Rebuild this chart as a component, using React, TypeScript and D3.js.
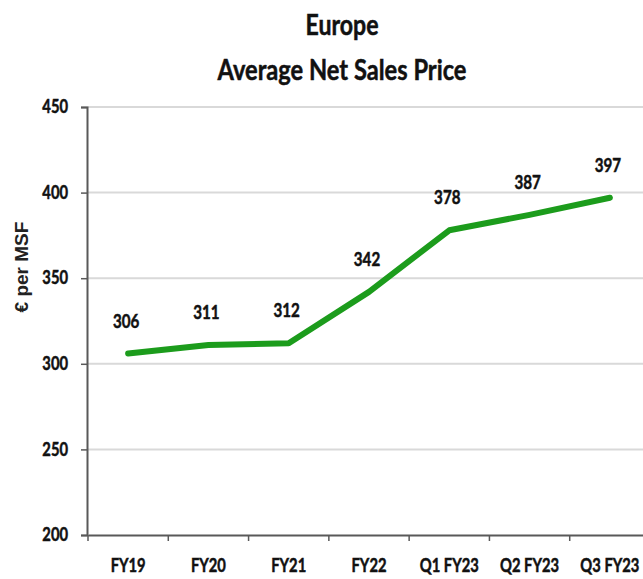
import React, { useEffect, useRef } from "react";
import * as d3 from "d3";

const categories = ["FY19", "FY20", "FY21", "FY22", "Q1 FY23", "Q2 FY23", "Q3 FY23"];
const prices = [306, 311, 312, 342, 378, 387, 397];
const yTicks = [200, 250, 300, 350, 400, 450];
const titleLines = ["Europe", "Average Net Sales Price"];
const yLabel = "€ per MSF";

const W = 643;
const H = 579;
const FONT = "Lato, 'Open Sans', sans-serif";
const SX = 0.82; // squeeze Lato horizontally, closer to Calibri
const INK = "#111";

const App = () => {
  const ref = useRef<SVGSVGElement>(null);

  useEffect(() => {
    const svg = d3.select(ref.current);
    svg.selectAll("*").remove();

    const left = 87;
    const top = 107;
    const bottom = 535;

    // x axis runs off the right edge in the original
    const x = d3.scaleBand().domain(categories).range([left + 1, 650]);
    const y = d3.scaleLinear().domain([200, 450]).range([bottom, top]);

    const heavy = (sel: any, size: number) =>
      sel
        .attr("font-family", FONT)
        .attr("font-weight", "bold")
        .attr("font-size", size)
        .attr("fill", INK)
        .attr("stroke", INK)
        .attr("stroke-width", 0.5);

    // title
    const titleW = [73, 249];
    const title = svg
      .append("g")
      .selectAll("text")
      .data(titleLines)
      .join("text")
      .attr("x", 342)
      .attr("y", (d, i) => 35 + i * 45)
      .attr("text-anchor", "middle")
      .attr("textLength", (d, i) => titleW[i])
      .attr("lengthAdjust", "spacingAndGlyphs")
      .text((d) => d);
    heavy(title, 29);

    // gridlines
    svg
      .append("g")
      .selectAll("line")
      .data(yTicks.filter((t) => t > 200))
      .join("line")
      .attr("x1", left)
      .attr("x2", W)
      .attr("y1", (d) => y(d))
      .attr("y2", (d) => y(d))
      .attr("stroke", "#d9d9d9")
      .attr("stroke-width", 2);

    // y axis
    const yAxis = svg
      .append("g")
      .attr("transform", `translate(${left},0)`)
      .call(d3.axisLeft(y).tickValues(yTicks).tickSize(6));
    yAxis.select(".domain").attr("stroke", "#595959").attr("stroke-width", 2);
    yAxis.selectAll(".tick line").attr("stroke", "#595959").attr("stroke-width", 1.5);
    heavy(
      yAxis
        .selectAll(".tick text")
        .attr("x", 0)
        .attr("transform", `translate(-19,0) scale(${SX},1)`),
      18
    );

    // x axis
    const xAxis = svg
      .append("g")
      .attr("transform", `translate(0,${bottom})`)
      .call(d3.axisBottom(x).tickSize(0).tickPadding(24));
    xAxis.select(".domain").attr("stroke", "#595959").attr("stroke-width", 2);
    heavy(xAxis.selectAll(".tick text").attr("transform", `scale(${SX},1)`), 18);
    // category separators
    xAxis
      .append("g")
      .selectAll("line")
      .data(categories)
      .join("line")
      .attr("x1", (d) => x(d)!)
      .attr("x2", (d) => x(d)!)
      .attr("y1", 0)
      .attr("y2", 6)
      .attr("stroke", "#595959")
      .attr("stroke-width", 1.5);

    // y label
    svg
      .append("text")
      .attr("transform", `translate(28,267) rotate(-90)`)
      .attr("text-anchor", "middle")
      .attr("font-family", "'Liberation Sans', Arial, sans-serif")
      .attr("font-weight", "bold")
      .attr("font-size", 19)
      .attr("fill", "#222")
      .text(yLabel);

    const cx = (i: number) => x(categories[i])! + x.bandwidth() / 2;

    // line
    const path = d3
      .line<number>()
      .x((d, i) => cx(i))
      .y((d) => y(d));
    svg
      .append("path")
      .datum(prices)
      .attr("d", path)
      .attr("fill", "none")
      .attr("stroke", "#1c9c1c")
      .attr("stroke-width", 6)
      .attr("stroke-linejoin", "round")
      .attr("stroke-linecap", "round");

    // data labels
    const labels = svg
      .append("g")
      .selectAll("text")
      .data(prices)
      .join("text")
      .attr("transform", (d, i) => `translate(${cx(i) - 2},${y(d) - 26}) scale(${SX},1)`)
      .attr("text-anchor", "middle")
      .text((d) => d);
    heavy(labels, 18.5);
  }, []);

  return (
    <div style={{ position: "fixed", left: 0, top: 0, background: "#fff" }}>
      <svg ref={ref} width={W} height={H} style={{ display: "block" }} />
    </div>
  );
};

export default App;
